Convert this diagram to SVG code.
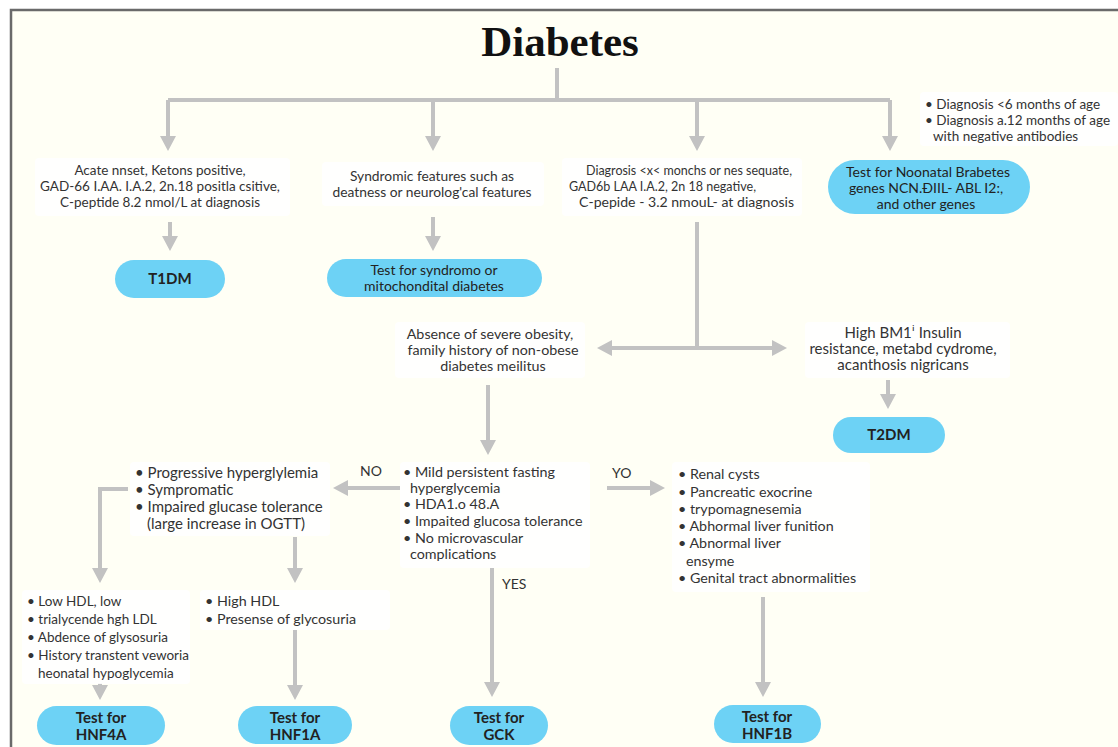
<svg xmlns="http://www.w3.org/2000/svg" width="1118" height="747" viewBox="0 0 1118 747">
<defs>
<style>
.bg{fill:#fffff5}
.frame{fill:none;stroke:#6a6a6a;stroke-width:2.5}
.tb{fill:#ffffff;opacity:0.9}
.pill{fill:#6dd2f5}
.t{font-family:Lato,"Noto Sans","DejaVu Sans",sans-serif;font-size:13.5px;fill:#333}
.m{font-size:14.3px}
.l{font-size:15px}
.c{text-anchor:middle}
.pt{font-family:Lato,"Noto Sans","DejaVu Sans",sans-serif;font-size:14px;fill:#222;text-anchor:middle}
.b{font-weight:700;font-size:15px}
.title{font-family:"Liberation Serif","DejaVu Serif",serif;font-weight:700;font-size:43px;fill:#111;text-anchor:middle}
.ln{fill:none;stroke:#c2c2c2;stroke-width:4}
.lab{font-family:Lato,"Noto Sans",sans-serif;font-size:14px;fill:#333}
</style>
<marker id="ah" viewBox="0 0 15 16" refX="3" refY="8" markerWidth="15" markerHeight="16" markerUnits="userSpaceOnUse" orient="auto-start-reverse">
<path d="M0,0 L15,8 L0,16 z" fill="#c2c2c2"/>
</marker>
</defs>
<rect width="1118" height="747" fill="#ffffff"/>
<rect class="bg" x="11" y="11" width="1107" height="736"/>
<path class="frame" d="M11,747 L11,10 L1118,10"/>

<g id="connectors">
<path class="ln" d="M557,68 L557,100"/>
<path class="ln" d="M168,100 L890,100"/>
<path class="ln" d="M168,100 L168,139" marker-end="url(#ah)"/>
<path class="ln" d="M433,100 L433,139" marker-end="url(#ah)"/>
<path class="ln" d="M697,100 L697,139" marker-end="url(#ah)"/>
<path class="ln" d="M890,100 L890,139" marker-end="url(#ah)"/>
<path class="ln" d="M170,222 L170,239" marker-end="url(#ah)"/>
<path class="ln" d="M433,217 L433,239" marker-end="url(#ah)"/>
<path class="ln" d="M697,222 L697,348"/>
<path class="ln" d="M609,348 L775,348" marker-start="url(#ah)" marker-end="url(#ah)"/>
<path class="ln" d="M888,380 L888,397" marker-end="url(#ah)"/>
<path class="ln" d="M488,385 L488,443" marker-end="url(#ah)"/>
<path class="ln" d="M400,488 L345,488" marker-end="url(#ah)"/>
<path class="ln" d="M607,488 L653,488" marker-end="url(#ah)"/>
<path class="ln" d="M492,568 L492,685" marker-end="url(#ah)"/>
<path class="ln" d="M128,489 L100,489 L100,571" marker-end="url(#ah)"/>
<path class="ln" d="M295,537 L295,571" marker-end="url(#ah)"/>
<path class="ln" d="M100,683 L100,688" marker-end="url(#ah)"/>
<path class="ln" d="M295,630 L295,688" marker-end="url(#ah)"/>
<path class="ln" d="M763,597 L763,685" marker-end="url(#ah)"/>
<text class="lab" x="360" y="476">NO</text>
<text class="lab" x="612" y="478">YO</text>
<text class="lab" x="502" y="589">YES</text>
</g>

<g id="title"><text class="title" x="560" y="56">Diabetes</text></g>

<g id="neonatal-criteria">
<rect class="tb" x="920" y="92" width="198" height="54" rx="4"/>
<text class="t" x="925" y="109">• Diagnosis &lt;6 months of age</text>
<text class="t" x="925" y="125">• Diagnosis a.12 months of age</text>
<text class="t" x="933" y="141">with negative antibodies</text>
</g>

<g id="t1-criteria">
<rect class="tb" x="35" y="158" width="255" height="58" rx="4"/>
<text class="t c" x="160" y="175">Acate nnset, Ketons positive,</text>
<text class="t c" x="160" y="191">GAD-66 I.AA. I.A.2, 2n.18 positla csitive,</text>
<text class="t c" x="160" y="207">C-peptide 8.2 nmol/L at diagnosis</text>
</g>

<g id="t1dm">
<rect class="pill" x="115" y="260" width="110" height="38" rx="19"/>
<text class="pt b" x="170" y="284">T1DM</text>
</g>

<g id="syndromic-criteria">
<rect class="tb" x="322" y="162" width="222" height="44" rx="4"/>
<text class="t c" x="432" y="181" style="font-size:13.8px">Syndromic features such as</text>
<text class="t c" x="432" y="197" style="font-size:13.8px">deatness or neurolog'cal features</text>
</g>

<g id="syndromic-test">
<rect class="pill" x="327" y="259" width="215" height="38" rx="19"/>
<text class="pt" x="434" y="275">Test for syndromo or</text>
<text class="pt" x="434" y="291">mitochondital diabetes</text>
</g>

<g id="mody-criteria">
<rect class="tb" x="562" y="158" width="240" height="58" rx="4"/>
<text class="t" x="586" y="175" textLength="206" lengthAdjust="spacingAndGlyphs">Diagrosis &lt;x&lt; monchs or nes sequate,</text>
<text class="t" x="569" y="191" textLength="187" lengthAdjust="spacingAndGlyphs">GAD6b LAA I.A.2, 2n 18 negative,</text>
<text class="t" x="579" y="207" textLength="215" lengthAdjust="spacingAndGlyphs">C-pepide - 3.2 nmouL- at diagnosis</text>
</g>

<g id="neonatal-test">
<rect class="pill" x="828" y="160" width="202" height="54" rx="27"/>
<text class="pt" x="928" y="177">Test for Noonatal Brabetes</text>
<text class="pt" x="926" y="193">genes NCN.ÐIIL- ABL I2:,</text>
<text class="pt" x="926" y="209">and other genes</text>
</g>

<g id="non-obese">
<rect class="tb" x="395" y="322" width="190" height="56" rx="4"/>
<text class="t m c" x="490" y="339">Absence of severe obesity,</text>
<text class="t m c" x="493" y="355">family history of non-obese</text>
<text class="t m c" x="493" y="371">diabetes meilitus</text>
</g>

<g id="obese">
<rect class="tb" x="805" y="322" width="205" height="56" rx="4"/>
<text class="t l c" x="903" y="338">High BM1ⁱ Insulin</text>
<text class="t l c" x="903" y="354">resistance, metabd cydrome,</text>
<text class="t l c" x="903" y="370">acanthosis nigricans</text>
</g>

<g id="t2dm">
<rect class="pill" x="833" y="417" width="112" height="36" rx="18"/>
<text class="pt b" x="889" y="440">T2DM</text>
</g>

<g id="mild-hyperglycemia">
<rect class="tb" x="400" y="462" width="190" height="106" rx="4"/>
<text class="t m" x="403" y="477">• Mild persistent fasting</text>
<text class="t m" x="410" y="493">hyperglycemia</text>
<text class="t m" x="403" y="509">• HDA1.o 48.A</text>
<text class="t m" x="403" y="526">• Impaited glucosa tolerance</text>
<text class="t m" x="403" y="543">• No microvascular</text>
<text class="t m" x="410" y="559">complications</text>
</g>

<g id="progressive">
<rect class="tb" x="130" y="462" width="200" height="74" rx="4"/>
<text class="t l" x="135" y="478">• Progressive hyperglylemia</text>
<text class="t l" x="135" y="495">• Sympromatic</text>
<text class="t l" x="135" y="512">• Impaired glucase tolerance</text>
<text class="t l" x="147" y="529">(large increase in OGTT)</text>
</g>

<g id="hnf4a-criteria">
<rect class="tb" x="22" y="590" width="168" height="94" rx="4"/>
<text class="t" x="27" y="606">• Low HDL, low</text>
<text class="t" x="27" y="624">• trialycende hgh LDL</text>
<text class="t" x="27" y="642">• Abdence of glysosuria</text>
<text class="t" x="27" y="660">• History transtent veworia</text>
<text class="t" x="38" y="678">heonatal hypoglycemia</text>
</g>

<g id="hnf1a-criteria">
<rect class="tb" x="200" y="590" width="190" height="40" rx="4"/>
<text class="t m" x="205" y="606">• High HDL</text>
<text class="t m" x="205" y="624">• Presense of glycosuria</text>
</g>

<g id="renal">
<rect class="tb" x="672" y="462" width="198" height="130" rx="4"/>
<text class="t m" x="678" y="479">• Renal cysts</text>
<text class="t m" x="678" y="497">• Pancreatic exocrine</text>
<text class="t m" x="678" y="514">• trypomagnesemia</text>
<text class="t m" x="678" y="531">• Abhormal liver funition</text>
<text class="t m" x="678" y="548">• Abnormal liver</text>
<text class="t m" x="686" y="566">ensyme</text>
<text class="t m" x="678" y="583">• Genital tract abnormalities</text>
</g>

<g id="hnf4a">
<rect class="pill" x="37" y="706" width="128" height="39" rx="19.5"/>
<text class="pt b" x="101" y="723">Test for</text>
<text class="pt b" x="101" y="740">HNF4A</text>
</g>
<g id="hnf1a">
<rect class="pill" x="238" y="706" width="114" height="38" rx="19"/>
<text class="pt b" x="295" y="723">Test for</text>
<text class="pt b" x="295" y="740">HNF1A</text>
</g>
<g id="gck">
<rect class="pill" x="450" y="706" width="98" height="39" rx="19.5"/>
<text class="pt b" x="499" y="723">Test for</text>
<text class="pt b" x="499" y="740">GCK</text>
</g>
<g id="hnf1b">
<rect class="pill" x="714" y="705" width="107" height="38" rx="19"/>
<text class="pt b" x="767" y="722">Test for</text>
<text class="pt b" x="767" y="739">HNF1B</text>
</g>
</svg>
